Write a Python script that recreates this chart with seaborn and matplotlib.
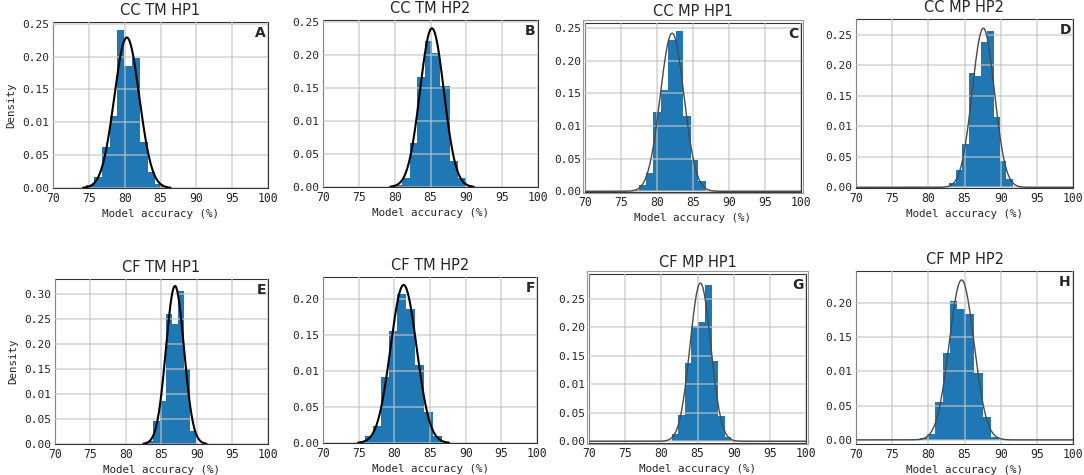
import numpy as np
import pandas as pd
import matplotlib
matplotlib.use("Agg")
import matplotlib.pyplot as plt
import seaborn as sns

# datos
titulos = ["CC TM HP1", "CC TM HP2", "CC MP HP1", "CC MP HP2",
           "CF TM HP1", "CF TM HP2", "CF MP HP1", "CF MP HP2"]
letras = ["A", "B", "C", "D", "E", "F", "G", "H"]

bordes_A = [74.65, 75.72, 76.84, 77.91, 78.93, 79.95, 81.07, 82.09, 83.26, 84.19, 85.35]
alturas_A = [0.005, 0.017, 0.063, 0.11, 0.24, 0.185, 0.197, 0.07, 0.025, 0.006]
bordes_B = [79.77, 80.98, 82.09, 83.12, 84.19, 85.21, 86.28, 87.67, 88.84, 90.0]
alturas_B = [0.003, 0.013, 0.066, 0.167, 0.22, 0.203, 0.153, 0.04, 0.013]
bordes_C = [76.48, 77.45, 78.47, 79.49, 80.51, 81.57, 82.59, 83.66, 84.68, 85.69, 86.76]
alturas_C = [0.002, 0.009, 0.028, 0.122, 0.155, 0.232, 0.245, 0.116, 0.048, 0.016]
bordes_D = [82.84, 83.82, 84.70, 85.62, 86.41, 87.34, 88.17, 89.01, 89.94, 90.77, 91.65]
alturas_D = [0.008, 0.028, 0.071, 0.188, 0.182, 0.238, 0.256, 0.115, 0.043, 0.013]
bordes_E = [82.89, 83.83, 84.77, 85.61, 86.46, 87.35, 88.19, 89.08, 89.92]
alturas_E = [0.005, 0.045, 0.085, 0.26, 0.24, 0.305, 0.15, 0.025]
bordes_F = [75.86, 77.03, 78.20, 79.28, 80.41, 81.63, 82.89, 84.16, 85.38, 86.64]
alturas_F = [0.01, 0.024, 0.091, 0.155, 0.206, 0.185, 0.108, 0.043, 0.01]
bordes_G = [81.45, 82.29, 83.21, 84.14, 85.11, 86.09, 86.97, 87.85, 88.78, 89.66]
alturas_G = [0.012, 0.047, 0.138, 0.202, 0.21, 0.275, 0.141, 0.045, 0.008]
bordes_H = [78.84, 79.85, 80.91, 81.96, 82.98, 83.99, 85.05, 86.34, 87.58, 88.73, 89.79]
alturas_H = [0.003, 0.008, 0.055, 0.127, 0.203, 0.19, 0.183, 0.097, 0.033, 0.004]

# parametros de la normal ajustada (media, desvio)
medias = [80.3, 85.2, 82.1, 87.6, 86.9, 81.3, 85.4, 84.6]
desvios = [1.742, 1.662, 1.648, 1.529, 1.266, 1.822, 1.435, 1.712]

# etiquetas del eje y tal como aparecen (con el 0.01 en lugar de 0.10)
yticks_025 = [0.00, 0.05, 0.10, 0.15, 0.20, 0.25]
ylabels_025 = ["0.00", "0.05", "0.01", "0.15", "0.20", "0.25"]
yticks_030 = [0.00, 0.05, 0.10, 0.15, 0.20, 0.25, 0.30]
ylabels_030 = ["0.00", "0.05", "0.01", "0.15", "0.20", "0.25", "0.30"]
yticks_020 = [0.00, 0.05, 0.10, 0.15, 0.20]
ylabels_020 = ["0.00", "0.05", "0.01", "0.15", "0.20"]
xticks = [70, 75, 80, 85, 90, 95, 100]

bordes = [bordes_A, bordes_B, bordes_C, bordes_D, bordes_E, bordes_F, bordes_G, bordes_H]
alturas = [alturas_A, alturas_B, alturas_C, alturas_D, alturas_E, alturas_F, alturas_G, alturas_H]
ticks_y = [(yticks_025, ylabels_025)] * 4 + [(yticks_030, ylabels_030), (yticks_020, ylabels_020),
                                             (yticks_025, ylabels_025), (yticks_020, ylabels_020)]
ylims = [(0, 0.2525), (0, 0.2525), (-0.001, 0.2577), (-0.001, 0.276),
         (0, 0.329), (0, 0.23), (-0.003, 0.294), (-0.006, 0.246)]

# posicion de cada panel en pixeles: izq, arriba, der, abajo
cajas = [(53, 22, 268, 188), (323, 20, 538, 187), (585, 23, 801, 192), (856, 19, 1073, 188),
         (55, 279, 268, 444), (323, 277, 537, 443), (589, 274, 806, 443), (856, 271, 1073, 444)]

sns.set_style("white")
plt.rcParams['font.family'] = ['DejaVu Sans Mono']

W, H = 1084, 475
fig = plt.figure(figsize=(W / 100, H / 100), dpi=100)

for i in range(8):
    l, t, r, b = cajas[i]
    ax = fig.add_axes([l / W, 1 - b / H, (r - l) / W, (b - t) / H])
    e = bordes[i]
    centros = [(e[k] + e[k + 1]) / 2 for k in range(len(e) - 1)]
    df = pd.DataFrame({"x": centros, "w": alturas[i]})
    sns.histplot(data=df, x="x", weights="w", bins=list(e), stat="count", ax=ax,
                 color="#1f77b4", alpha=1, linewidth=0, zorder=2)

    gris = i in (2, 3, 6, 7)
    if gris:
        xs = np.linspace(70, 100, 400)
    else:
        xs = np.linspace(medias[i] - 3.5 * desvios[i], medias[i] + 3.5 * desvios[i], 300)
    ys = np.exp(-0.5 * ((xs - medias[i]) / desvios[i]) ** 2) / (desvios[i] * np.sqrt(2 * np.pi))
    sns.lineplot(x=xs, y=ys, ax=ax, color="#4a4a4a" if gris else "black",
                 linewidth=1.0 if gris else 1.5, zorder=4)

    ax.set_xlim(70, 100)
    ax.set_ylim(*ylims[i])
    ax.set_xticks(xticks)
    ax.set_xticklabels([str(v) for v in xticks], fontsize=8.3)
    ax.set_yticks(ticks_y[i][0])
    ax.set_yticklabels(ticks_y[i][1], fontsize=8)
    ax.tick_params(length=0, pad=3)
    ax.set_axisbelow(False)
    ax.grid(True, color="#c4c4c4", linewidth=1.1, alpha=0.75, zorder=3)
    for s in ax.spines.values():
        s.set_color("#333333")
        s.set_linewidth(0.8)

    ax.set_title(titulos[i], fontsize=10.5, pad=5, family=["DejaVu Sans"])
    ax.set_xlabel("Model accuracy (%)", fontsize=7.8, labelpad=3)
    if i in (0, 4):
        ax.set_ylabel("Density", fontsize=7.8, labelpad=4)
    else:
        ax.set_ylabel("")
    ax.text(0.99, 0.975, letras[i], transform=ax.transAxes, ha="right", va="top",
            fontsize=10, fontweight="bold", family=["DejaVu Sans"], zorder=5)

    if i in (2, 6):
        # marco gris doble alrededor de C y G
        marco = plt.Rectangle(((l - 2) / W, 1 - (b + 1) / H), (r - l + 4) / W, (b - t + 4) / H,
                              transform=fig.transFigure, fill=False, edgecolor="#999999",
                              linewidth=0.8)
        fig.patches.append(marco)

fig.savefig("out.png", dpi=100)
